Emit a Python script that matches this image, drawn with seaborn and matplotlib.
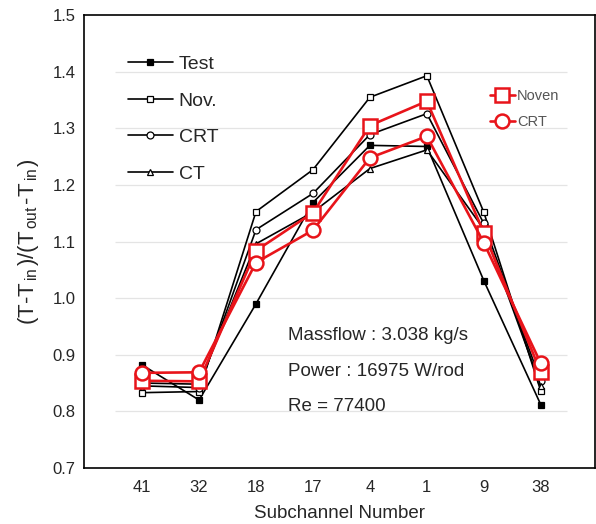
import matplotlib
matplotlib.use("Agg")
import matplotlib.pyplot as plt
import seaborn as sns
from matplotlib.ticker import MultipleLocator

subchannels = ["41", "32", "18", "17", "4", "1", "9", "38"]

test = [0.882, 0.820, 0.990, 1.169, 1.270, 1.268, 1.031, 0.812]
nov = [0.833, 0.835, 1.153, 1.227, 1.355, 1.393, 1.152, 0.836]
crt = [0.845, 0.842, 1.121, 1.185, 1.289, 1.326, 1.132, 0.853]
ct = [0.850, 0.848, 1.096, 1.152, 1.229, 1.262, 1.122, 0.845]

noven_red = [0.854, 0.853, 1.084, 1.151, 1.305, 1.348, 1.116, 0.869]
crt_red = [0.868, 0.869, 1.063, 1.120, 1.248, 1.286, 1.098, 0.885]

grid_levels = [0.8, 0.9, 1.0, 1.1, 1.2, 1.3, 1.4]
notes = ["Massflow : 3.038 kg/s", "Power : 16975 W/rod", "Re = 77400"]

sns.set_style("white")
plt.rcParams["font.family"] = ["Liberation Sans", "DejaVu Sans"]
plt.rcParams["mathtext.fontset"] = "custom"
plt.rcParams["mathtext.rm"] = "Liberation Sans"
plt.rcParams["mathtext.it"] = "Liberation Sans"

fig = plt.figure(figsize=(5.96, 5.24), dpi=100)
ax = fig.add_axes([0.141, 0.107, 0.858, 0.864])

# light horizontal grid, not spanning full width
ax.hlines(grid_levels, -0.47, 7.46, color="#e4e4e4", lw=0.9, zorder=0)

black_series = [
    ("Test", test, dict(marker="s", markersize=5, markerfacecolor="black")),
    ("Nov.", nov, dict(marker="s", markersize=5, markerfacecolor="white")),
    ("CRT", crt, dict(marker="o", markersize=5, markerfacecolor="white")),
    ("CT", ct, dict(marker="^", markersize=5, markerfacecolor="white")),
]
for name, vals, kw in black_series:
    sns.lineplot(x=subchannels, y=vals, ax=ax, color="black", lw=1.2,
                 markeredgecolor="black", markeredgewidth=0.9, label=name,
                 sort=False, zorder=3, **kw)

red_series = [
    ("Noven", noven_red, dict(marker="s", markersize=10)),
    ("CRT", crt_red, dict(marker="o", markersize=10)),
]
for name, vals, kw in red_series:
    sns.lineplot(x=subchannels, y=vals, ax=ax, color="#e8141a", lw=1.9,
                 markerfacecolor="white", markeredgecolor="#e8141a",
                 markeredgewidth=1.8, label=name, sort=False, zorder=4, **kw)

handles, labels = ax.get_legend_handles_labels()
leg1 = ax.legend(handles[:4], labels[:4], loc="upper left",
                 bbox_to_anchor=(0.052, 0.95), frameon=False, fontsize=14,
                 handlelength=2.3, handletextpad=0.3, labelspacing=0.98)
ax.add_artist(leg1)
leg2 = ax.legend(handles[4:], labels[4:], loc="upper left",
                 bbox_to_anchor=(0.768, 0.866), frameon=False, fontsize=10.5,
                 handlelength=1.7, handletextpad=0.15, labelspacing=0.85)
for t in leg2.get_texts():
    t.set_color("#555555")

for i, note in enumerate(notes):
    ax.text(0.399, 0.293 - i * 0.079, note, transform=ax.transAxes,
            fontsize=13.5, va="center", ha="left")

ax.set_xlim(-1.02, 7.96)
ax.set_ylim(0.7, 1.5)
ax.yaxis.set_major_locator(MultipleLocator(0.1))
ax.yaxis.set_minor_locator(MultipleLocator(0.05))
ax.tick_params(axis="both", which="both", direction="in", labelsize=12)
ax.tick_params(axis="y", which="major", length=6, width=1, pad=6)
ax.tick_params(axis="y", which="minor", length=3, width=1)
ax.tick_params(axis="x", length=5, width=1, pad=9)
for s in ax.spines.values():
    s.set_color("black")
    s.set_linewidth(1.2)

ax.set_xlabel("Subchannel Number", fontsize=13.5, labelpad=7)
ax.set_ylabel("(T-T$_{\\,in\\,}$)/(T$_{\\,out\\,}$-T$_{\\,in\\,}$)",
              fontsize=16, labelpad=8)

fig.savefig("out.png", dpi=100)
